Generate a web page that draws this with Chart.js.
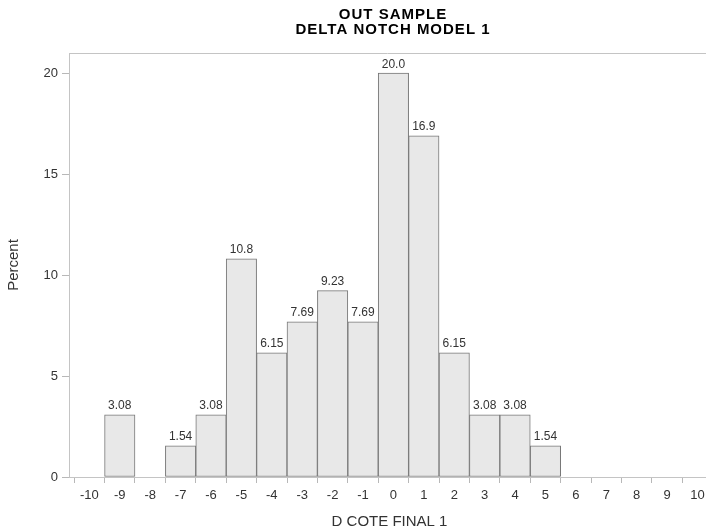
<!DOCTYPE html>
<html>
<head>
<meta charset="utf-8">
<script src="https://cdn.jsdelivr.net/npm/chart.js@4.4.1/dist/chart.umd.min.js"></script>
<style>
html,body{margin:0;padding:0;background:#fff;}
#wrap{width:706px;height:529px;position:relative;}
</style>
</head>
<body>
<div id="wrap"><canvas id="c" width="706" height="529"></canvas></div>
<script>
// ---- data ----
const bins = [-9, -8, -7, -6, -5, -4, -3, -2, -1, 0, 1, 2, 3, 4, 5];
const percents = [3.08, 0, 1.54, 3.08, 10.8, 6.15, 7.69, 9.23, 7.69, 20.0, 16.9, 6.15, 3.08, 3.08, 1.54];
const barLabels = ["3.08", "", "1.54", "3.08", "10.8", "6.15", "7.69", "9.23", "7.69", "20.0", "16.9", "6.15", "3.08", "3.08", "1.54"];
const xTicks = [-10, -9, -8, -7, -6, -5, -4, -3, -2, -1, 0, 1, 2, 3, 4, 5, 6, 7, 8, 9, 10];
const yTicks = [0, 5, 10, 15, 20];
const titleLines = ["OUT SAMPLE", "DELTA NOTCH MODEL 1"];
const xTitle = "D COTE FINAL 1";
const yTitle = "Percent";

const FONT = "'Liberation Sans', Arial, Helvetica, sans-serif";

const decor = {
  id: 'decor',
  afterDatasetsDraw(chart) {
    const ctx = chart.ctx;
    const meta = chart.getDatasetMeta(0);
    ctx.save();
    ctx.font = "12px " + FONT;
    ctx.fillStyle = "#333";
    ctx.textAlign = "center";
    ctx.textBaseline = "bottom";
    meta.data.forEach((el, i) => {
      if (percents[i] > 0 && barLabels[i]) {
        ctx.fillText(barLabels[i], el.x, el.y - 3);
      }
    });
    ctx.restore();
  },
  afterDraw(chart) {
    const ctx = chart.ctx;
    const a = chart.chartArea;
    ctx.save();
    // top frame line
    ctx.strokeStyle = "#c4c4c4";
    ctx.lineWidth = 1;
    ctx.beginPath();
    ctx.moveTo(a.left, Math.round(a.top) + 0.5);
    ctx.lineTo(chart.width, Math.round(a.top) + 0.5);
    ctx.stroke();
    // titles
    ctx.fillStyle = "#000";
    ctx.textAlign = "center";
    ctx.textBaseline = "middle";
    ctx.font = "bold 15px " + FONT;
    try { ctx.letterSpacing = "1px"; } catch (e) {}
    ctx.fillText(titleLines[0], 393, 15);
    ctx.fillText(titleLines[1], 393, 29.5);
    try { ctx.letterSpacing = "0px"; } catch (e) {}
    // axis titles
    ctx.fillStyle = "#333";
    ctx.font = "15px " + FONT;
    ctx.fillText(xTitle, 389.5, 521.5);
    ctx.translate(14, 265);
    ctx.rotate(-Math.PI / 2);
    ctx.fillText(yTitle, 0, 0);
    ctx.restore();
  }
};

new Chart(document.getElementById('c'), {
  type: 'bar',
  data: {
    datasets: [{
      data: bins.map((b, i) => ({ x: b, y: percents[i] > 0 ? percents[i] : null })),
      backgroundColor: '#e8e8e8',
      borderColor: '#777777',
      borderWidth: 1,
      borderSkipped: false,
      barPercentage: 1,
      categoryPercentage: 1
    }]
  },
  options: {
    responsive: false,
    animation: false,
    events: [],
    layout: { padding: { top: 53, left: 0, right: 0, bottom: 0 } },
    plugins: { legend: { display: false }, title: { display: false }, tooltip: { enabled: false } },
    scales: {
      x: {
        type: 'linear',
        min: -10.67,
        max: 10.28,
        offset: false,
        afterBuildTicks(s) { s.ticks = xTicks.map(v => ({ value: v })); },
        afterFit(s) { s.height = 52; s.paddingLeft = 0; s.paddingRight = 0; },
        ticks: { color: '#333', font: { size: 13, family: FONT }, padding: 5, maxRotation: 0, autoSkip: false },
        grid: { drawOnChartArea: false, tickLength: 6, color: '#b8b8b8' },
        border: { color: '#c4c4c4' }
      },
      y: {
        min: 0,
        max: 21,
        afterBuildTicks(s) { s.ticks = yTicks.map(v => ({ value: v })); },
        afterFit(s) { s.width = 69; s.paddingTop = 0; s.paddingBottom = 0; },
        ticks: { color: '#333', font: { size: 13, family: FONT }, padding: 4 },
        grid: { drawOnChartArea: false, tickLength: 7, color: '#b8b8b8' },
        border: { color: '#c4c4c4' }
      }
    }
  },
  plugins: [decor]
});
</script>
</body>
</html>
